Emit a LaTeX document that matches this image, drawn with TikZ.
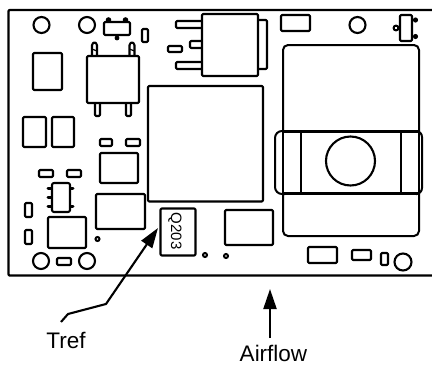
\documentclass[tikz,border=0pt]{standalone}
\usepackage{fontspec}
\setmainfont{Liberation Sans}
\usetikzlibrary{arrows.meta}
\tikzset{
  part/.style={draw=black,line width=2.1pt,rounded corners=1.2pt,line join=round},
  big part/.style={draw=black,line width=2pt,rounded corners=5pt},
  band line/.style={draw=black,line width=1.8pt},
  hole/.style={draw=black,line width=2.1pt},
  via/.style={draw=black,line width=2pt},
  pointer/.style={draw=black,line width=2.1pt},
  pointer tip/.style={-{Triangle[length=20pt,width=13pt]}},
  label text/.style={font=\fontsize{22.5}{24}\selectfont,inner sep=0pt}
}
\begin{document}
\begin{tikzpicture}[x=1pt,y=-1pt]
\useasboundingbox (0,0) rectangle (432,365);
% board
\draw[line width=2.2pt,line join=round,rounded corners=1pt] (432,10) -- (8.5,10) -- (8.5,275.5) -- (432,275.5);
% top-left holes
\draw[hole] (41.5,25) circle (8);
\draw[hole] (87,25) circle (8);
% SOT
\fill (108.5,20) circle (2.8);
\fill (125.5,20) circle (2.8);
\fill (117,38) circle (2.4);
\draw[part,fill=white] (104,22) rectangle (130,35);
\draw[part] (142,29) rectangle (148,42);
\draw[part] (33,53) rectangle (62,90);
% square with pins
\draw[part] (92,55) -- (92,44) -- (94.5,42) -- (97,44) -- (97,55);
\draw[part] (129.5,55) -- (129.5,44) -- (132,42) -- (134.5,44) -- (134.5,55);
\draw[line width=1.2pt] (92,49) -- (97,51) (129.5,49) -- (134.5,51);
\draw[part] (95,103) -- (95,116) -- (100,116) -- (100,103);
\draw[part] (126,103) -- (126,116) -- (131,116) -- (131,103);
\draw[part] (87,56) rectangle (139,103);
% big square
\draw[part] (148,86) rectangle (263,201.5);
% D-pak
\draw[part] (202,21) -- (176,21) -- (176,28) -- (202,28);
\draw[part] (202,41) -- (190,41) -- (190,48) -- (202,48);
\draw[part] (202,62) -- (176,62) -- (176,69) -- (202,69);
\draw[part] (168,46) rectangle (182,52);
\draw[part] (258,20) -- (267,20) -- (267,69) -- (258,69);
\draw[part] (202,14) rectangle (258,76);
% top-right
\draw[part] (281,15) rectangle (310,31);
\draw[hole] (357.5,25) circle (8);
\draw[part] (400,15) rectangle (412,41);
\fill (415.5,20) circle (2.6);
\fill (415.5,36.5) circle (2.6);
\draw[line width=2pt] (396,28) circle (2.4);
% inductor
\draw[big part] (283,131) -- (283,45) -- (419,45) -- (419,131);
\draw[big part] (283,193) -- (283,236) -- (419,236) -- (419,193);
\draw[big part,rounded corners=7pt] (285,131) -- (275,131) -- (275,194) -- (285,194);
\draw[big part,rounded corners=6pt] (417,131) -- (422,131) -- (422,194) -- (417,194);
\draw[band line] (301,131) -- (301,193);
\draw[band line] (401,131) -- (401,193);
\draw[band line] (283,131) -- (283,193);
\draw[band line] (419,131) -- (419,193);
\draw[line width=2.8pt] (283,131.5) -- (420,131.5);
\draw[line width=2.8pt] (283,193.5) -- (420,193.5);
\draw[hole] (350.5,161) circle (24.5);
% lower right
\draw[part] (225,210) rectangle (273,245);
\draw[via] (226,256) circle (2);
\draw[part] (308,247) rectangle (337,263);
\draw[part] (352,250) rectangle (371,260);
\draw[part] (381,253) rectangle (388,265);
\draw[hole] (403,262) circle (8.5);
% left block
\draw[part] (23,117) rectangle (46,147);
\draw[part] (52,117) rectangle (74,147);
\draw[part] (100,139) rectangle (112,146);
\draw[part] (126,139) rectangle (140,146);
\draw[part] (100,153) rectangle (138,183);
\draw[part] (39,170) rectangle (53,177);
\draw[part] (67,170) rectangle (81,177);
% IC
\foreach \py in {188,197,206} \draw[line width=3pt,line cap=round] (48,\py) -- (53,\py);
\foreach \py in {188,206} \draw[line width=3pt,line cap=round] (69,\py) -- (73,\py);
\draw[part,rounded corners=2pt,fill=white] (52,183) rectangle (70,212);
% lower left
\draw[part] (25,203) rectangle (32,217);
\draw[part] (25,230) rectangle (32,244);
\draw[part] (96,194) rectangle (145,229);
\draw[part] (48,217) rectangle (86,248);
\draw[via] (97.5,239) circle (2);
\draw[hole] (41,261) circle (8);
\draw[hole] (87,261) circle (8);
\draw[part] (57,258) rectangle (71,265);
% Q203
\node[part,minimum width=35pt,minimum height=47pt,inner sep=0pt] (q) at (178,232) {};
\node[rotate=-90,inner sep=0pt,font=\fontsize{15}{16}\selectfont] (qtext) at (175,231) {Q203};
\draw[via] (205,255) circle (2);
% labels and pointers
\node[label text] (tref) at (66,340) {Tref};
\node[label text] (air) at (273.5,353.5) {Airflow};
\coordinate (bendb) at (106,304);
\coordinate (benda) at (68,314);
\coordinate (start) at (61,322);
\coordinate (tip) at (158,228);
\coordinate (airtail) at (270,338);
\coordinate (airtip) at (270,289);
\draw[pointer,pointer tip,line join=round] (start) -- (benda) -- (bendb) -- (tip);
\draw[pointer,pointer tip] (airtail) -- (airtip);
\end{tikzpicture}
\end{document}
